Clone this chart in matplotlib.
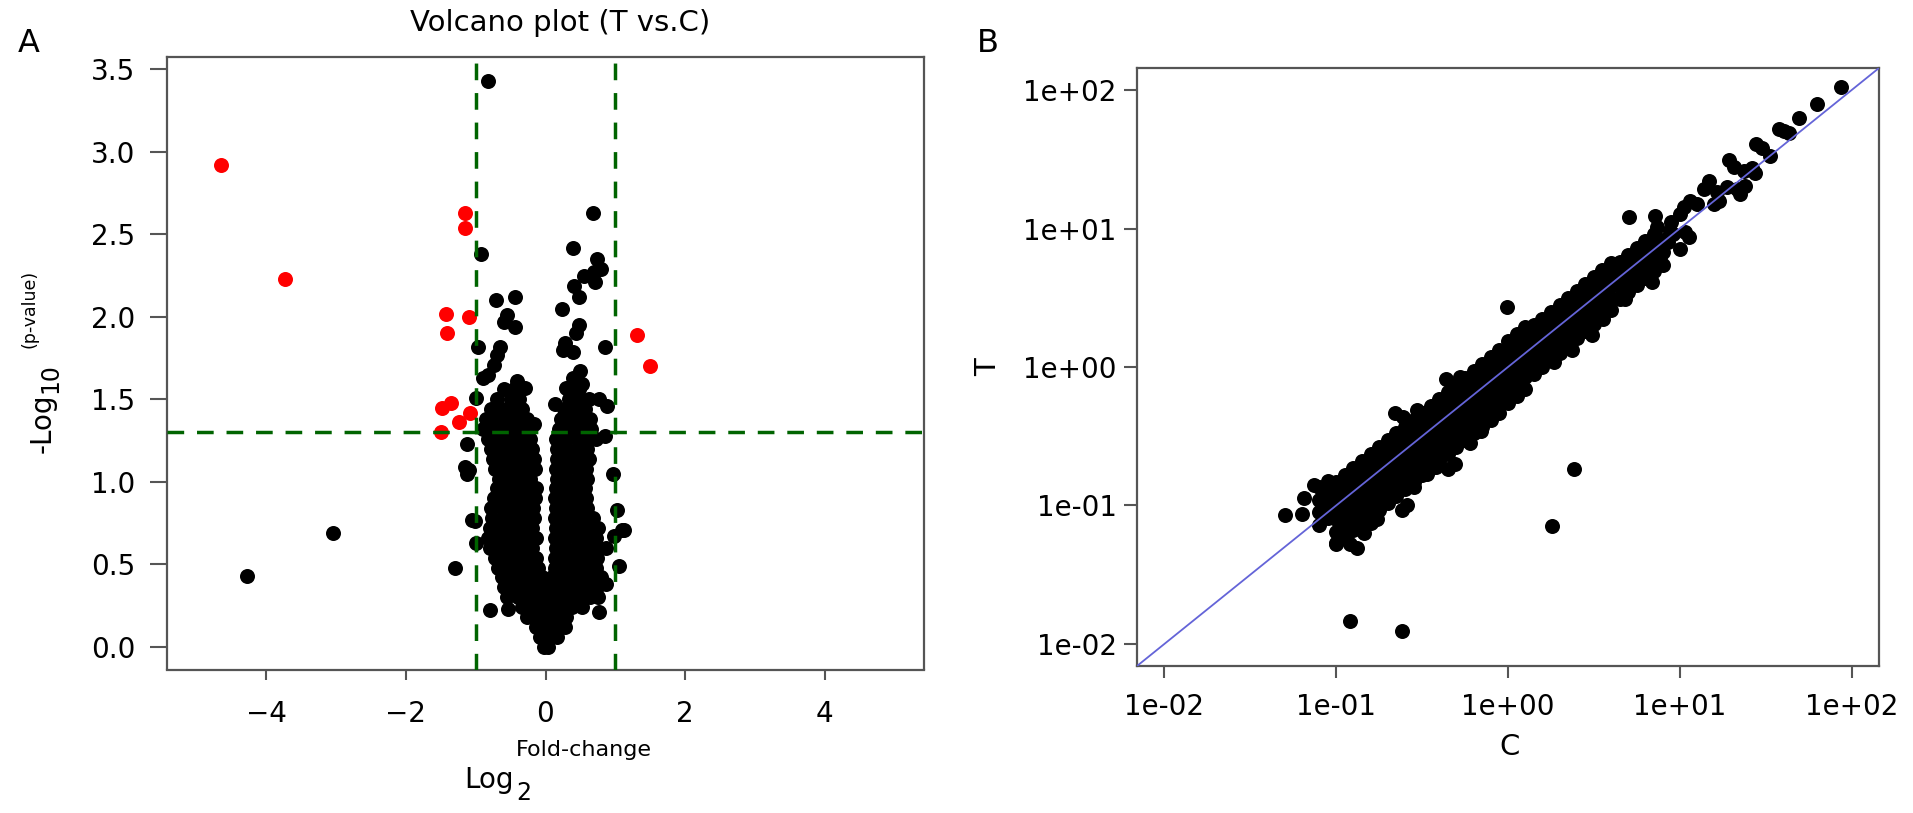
import numpy as np
import matplotlib.pyplot as plt

# ---- panel A: volcano plot, points are (log2 fold change, -log10 p) ----
# dense non-significant core
ns_core = [
    (-0.02, 0.00), (0.04, 0.00),
    (-0.08, 0.06), (0.05, 0.06), (0.16, 0.06),
    (-0.14, 0.12), (0.00, 0.12), (0.15, 0.12), (0.28, 0.12),
    (-0.26, 0.18), (-0.12, 0.18), (0.02, 0.18), (0.16, 0.18), (0.30, 0.18),
    (-0.33, 0.24), (-0.18, 0.24), (-0.04, 0.24), (0.10, 0.24), (0.24, 0.24), (0.38, 0.24), (0.52, 0.24),
    (-0.55, 0.30), (-0.40, 0.30), (-0.25, 0.30), (-0.10, 0.30), (0.05, 0.30), (0.20, 0.30), (0.35, 0.30),
    (0.50, 0.30), (0.64, 0.30), (0.75, 0.30),
    (-0.60, 0.36), (-0.45, 0.36), (-0.30, 0.36), (-0.15, 0.36), (0.00, 0.36), (0.15, 0.36), (0.30, 0.36),
    (0.45, 0.36), (0.60, 0.36), (0.74, 0.36),
    (-0.63, 0.42), (-0.48, 0.42), (-0.33, 0.42), (-0.18, 0.42), (-0.05, 0.42), (0.10, 0.42), (0.25, 0.42),
    (0.40, 0.42), (0.55, 0.42), (0.70, 0.42), (0.80, 0.42),
    (-0.68, 0.48), (-0.53, 0.48), (-0.38, 0.48), (-0.24, 0.48), (-0.11, 0.48), (0.13, 0.48), (0.28, 0.48),
    (0.43, 0.48), (0.58, 0.48), (0.72, 0.48),
    (-0.72, 0.54), (-0.57, 0.54), (-0.42, 0.54), (-0.27, 0.54), (-0.13, 0.54), (0.14, 0.54), (0.29, 0.54),
    (0.44, 0.54), (0.59, 0.54), (0.74, 0.54),
    (-0.80, 0.60), (-0.65, 0.60), (-0.50, 0.60), (-0.35, 0.60), (-0.20, 0.60), (0.15, 0.60), (0.30, 0.60),
    (0.45, 0.60), (0.60, 0.60), (0.75, 0.60), (0.86, 0.60),
    (-0.83, 0.66), (-0.68, 0.66), (-0.53, 0.66), (-0.38, 0.66), (-0.24, 0.66), (-0.13, 0.66), (0.14, 0.66),
    (0.28, 0.66), (0.43, 0.66), (0.58, 0.66), (0.72, 0.66),
    (-0.80, 0.72), (-0.65, 0.72), (-0.50, 0.72), (-0.35, 0.72), (-0.20, 0.72), (0.15, 0.72), (0.30, 0.72),
    (0.45, 0.72), (0.60, 0.72), (0.75, 0.72),
    (-0.76, 0.78), (-0.61, 0.78), (-0.46, 0.78), (-0.31, 0.78), (-0.16, 0.78), (0.14, 0.78), (0.28, 0.78),
    (0.43, 0.78), (0.58, 0.78), (0.68, 0.78),
    (-0.78, 0.84), (-0.63, 0.84), (-0.48, 0.84), (-0.33, 0.84), (-0.18, 0.84), (0.15, 0.84), (0.30, 0.84),
    (0.45, 0.84), (0.60, 0.84),
    (-0.74, 0.90), (-0.59, 0.90), (-0.44, 0.90), (-0.29, 0.90), (-0.15, 0.90), (0.14, 0.90), (0.29, 0.90),
    (0.44, 0.90), (0.58, 0.90),
    (-0.70, 0.96), (-0.55, 0.96), (-0.40, 0.96), (-0.25, 0.96), (-0.14, 0.96), (0.15, 0.96), (0.30, 0.96),
    (0.45, 0.96), (0.56, 0.96),
    (-0.66, 1.02), (-0.51, 1.02), (-0.36, 1.02), (-0.22, 1.02), (0.16, 1.02), (0.31, 1.02), (0.46, 1.02),
    (0.60, 1.02),
    (-0.72, 1.08), (-0.57, 1.08), (-0.42, 1.08), (-0.27, 1.08), (-0.15, 1.08), (0.15, 1.08), (0.30, 1.08),
    (0.45, 1.08), (0.58, 1.08),
    (-0.75, 1.14), (-0.60, 1.14), (-0.45, 1.14), (-0.30, 1.14), (-0.17, 1.14), (0.17, 1.14), (0.32, 1.14),
    (0.47, 1.14), (0.62, 1.14),
    (-0.78, 1.20), (-0.63, 1.20), (-0.48, 1.20), (-0.33, 1.20), (-0.20, 1.20), (0.16, 1.20), (0.31, 1.20),
    (0.46, 1.20), (0.60, 1.20),
    (-0.82, 1.26), (-0.67, 1.26), (-0.52, 1.26), (-0.37, 1.26), (-0.22, 1.26), (0.15, 1.26), (0.30, 1.26),
    (0.45, 1.26), (0.60, 1.26), (0.72, 1.26),
    (-0.90, 1.32), (-0.75, 1.32), (-0.60, 1.32), (-0.45, 1.32), (-0.30, 1.32), (0.20, 1.32), (0.35, 1.32),
    (0.50, 1.32), (0.65, 1.32),
    (-0.85, 1.38), (-0.70, 1.38), (-0.55, 1.38), (-0.40, 1.38), (-0.26, 1.38), (0.22, 1.38), (0.37, 1.38),
    (0.52, 1.38), (0.64, 1.38),
    (-0.78, 1.44), (-0.62, 1.44), (-0.47, 1.44), (-0.33, 1.44), (0.27, 1.44), (0.42, 1.44), (0.57, 1.44),
    (-0.70, 1.50), (-0.50, 1.50), (-0.38, 1.50), (0.33, 1.50), (0.50, 1.50), (0.62, 1.50),
    (-0.60, 1.56), (-0.45, 1.56), (0.35, 1.56), (0.48, 1.56),
]

# scattered non-significant points around the core
ns_outer = [
    (-0.82, 3.43), (0.68, 2.63), (-0.93, 2.38), (0.39, 2.42), (0.74, 2.35), (0.80, 2.29),
    (0.69, 2.27), (0.55, 2.25), (0.41, 2.19), (0.71, 2.21), (0.48, 2.12), (-0.71, 2.10),
    (-0.44, 2.12), (-0.55, 2.01), (-0.60, 1.97), (-0.43, 1.94), (0.24, 2.05), (0.48, 1.95),
    (0.44, 1.90), (0.28, 1.84), (0.39, 1.79), (0.25, 1.80), (-0.97, 1.82), (-0.65, 1.82),
    (-0.70, 1.77), (0.85, 1.82), (-0.74, 1.71), (-0.82, 1.65), (-0.90, 1.63), (0.50, 1.67),
    (0.52, 1.59), (0.39, 1.63), (-0.41, 1.61), (-0.30, 1.57), (0.30, 1.57), (0.36, 1.52),
    (-0.99, 1.51), (0.14, 1.47), (0.77, 1.50), (0.88, 1.46), (-0.16, 1.35), (0.85, 1.28),
    (-1.12, 1.23), (-1.15, 1.09), (-1.12, 1.05), (0.96, 1.05), (1.02, 0.83), (1.13, 0.71),
    (-1.01, 0.76), (1.05, 0.49), (1.10, 0.71), (0.98, 0.67), (-1.05, 0.77), (-1.00, 0.63),
    (-1.10, 1.07), (-0.79, 0.22), (-0.53, 0.23), (0.77, 0.21), (0.86, 0.38), (-1.30, 0.48),
    (-3.04, 0.69), (-4.28, 0.43),
]

# significant points (|log2 FC| > 1 and p < 0.05)
sig_pts = [
    (-4.64, 2.92), (-3.73, 2.23), (-1.15, 2.63), (-1.15, 2.54), (-1.43, 2.02), (-1.41, 1.90),
    (-1.10, 2.00), (1.31, 1.89), (1.50, 1.70), (-1.48, 1.45), (-1.35, 1.48), (-1.24, 1.36),
    (-1.08, 1.42), (-1.50, 1.30),
]

fc_cut = 1.0
p_cut = 0.05

# ---- panel B: expression T vs C, points are (log10 C, log10 T) ----
band_core = [
    (-1.10, -1.14), (-1.10, -1.05), (-1.10, -0.96), (-1.10, -0.87),
    (-1.05, -1.09), (-1.05, -1.00), (-1.05, -0.91), (-1.05, -0.82),
    (-1.00, -1.28), (-1.00, -1.19), (-1.00, -1.10), (-1.00, -1.01), (-1.00, -0.92), (-1.00, -0.83),
    (-0.95, -1.23), (-0.95, -1.14), (-0.95, -1.05), (-0.95, -0.96), (-0.95, -0.87), (-0.95, -0.78),
    (-0.90, -1.18), (-0.90, -1.09), (-0.90, -1.00), (-0.90, -0.91), (-0.90, -0.82), (-0.90, -0.73),
    (-0.85, -1.13), (-0.85, -1.04), (-0.85, -0.95), (-0.85, -0.86), (-0.85, -0.77), (-0.85, -0.68),
    (-0.80, -1.08), (-0.80, -0.99), (-0.80, -0.90), (-0.80, -0.81), (-0.80, -0.72), (-0.80, -0.63),
    (-0.75, -1.03), (-0.75, -0.94), (-0.75, -0.85), (-0.75, -0.76), (-0.75, -0.67), (-0.75, -0.58),
    (-0.70, -0.98), (-0.70, -0.89), (-0.70, -0.80), (-0.70, -0.71), (-0.70, -0.62), (-0.70, -0.53),
    (-0.65, -0.93), (-0.65, -0.84), (-0.65, -0.75), (-0.65, -0.66), (-0.65, -0.57), (-0.65, -0.48),
    (-0.60, -0.88), (-0.60, -0.79), (-0.60, -0.70), (-0.60, -0.61), (-0.60, -0.52), (-0.60, -0.43),
    (-0.55, -0.83), (-0.55, -0.74), (-0.55, -0.65), (-0.55, -0.56), (-0.55, -0.47), (-0.55, -0.38),
    (-0.50, -0.78), (-0.50, -0.69), (-0.50, -0.60), (-0.50, -0.51), (-0.50, -0.42), (-0.50, -0.33),
    (-0.45, -0.73), (-0.45, -0.64), (-0.45, -0.55), (-0.45, -0.46), (-0.45, -0.37), (-0.45, -0.28),
    (-0.40, -0.68), (-0.40, -0.59), (-0.40, -0.50), (-0.40, -0.41), (-0.40, -0.32), (-0.40, -0.23),
    (-0.35, -0.63), (-0.35, -0.54), (-0.35, -0.45), (-0.35, -0.36), (-0.35, -0.27), (-0.35, -0.18),
    (-0.30, -0.58), (-0.30, -0.49), (-0.30, -0.40), (-0.30, -0.31), (-0.30, -0.22), (-0.30, -0.13),
    (-0.25, -0.53), (-0.25, -0.44), (-0.25, -0.35), (-0.25, -0.26), (-0.25, -0.17), (-0.25, -0.08),
    (-0.20, -0.48), (-0.20, -0.39), (-0.20, -0.30), (-0.20, -0.21), (-0.20, -0.12), (-0.20, -0.03),
    (-0.15, -0.43), (-0.15, -0.34), (-0.15, -0.25), (-0.15, -0.16), (-0.15, -0.07), (-0.15, 0.02),
    (-0.10, -0.38), (-0.10, -0.29), (-0.10, -0.20), (-0.10, -0.11), (-0.10, -0.02), (-0.10, 0.07),
    (-0.05, -0.33), (-0.05, -0.24), (-0.05, -0.15), (-0.05, -0.06), (-0.05, 0.03), (-0.05, 0.12),
    (0.00, -0.26), (0.00, -0.17), (0.00, -0.08), (0.00, 0.01), (0.00, 0.10), (0.00, 0.19),
    (0.05, -0.21), (0.05, -0.12), (0.05, -0.03), (0.05, 0.06), (0.05, 0.15), (0.05, 0.24),
    (0.10, -0.16), (0.10, -0.07), (0.10, 0.02), (0.10, 0.11), (0.10, 0.20), (0.10, 0.29),
    (0.15, -0.05), (0.15, 0.04), (0.15, 0.13), (0.15, 0.22), (0.15, 0.30),
    (0.20, 0.00), (0.20, 0.09), (0.20, 0.18), (0.20, 0.27), (0.20, 0.35),
    (0.25, 0.05), (0.25, 0.14), (0.25, 0.23), (0.25, 0.32), (0.25, 0.40),
    (0.30, 0.10), (0.30, 0.19), (0.30, 0.28), (0.30, 0.37), (0.30, 0.45),
    (0.35, 0.16), (0.35, 0.25), (0.35, 0.34), (0.35, 0.43), (0.35, 0.50),
    (0.40, 0.21), (0.40, 0.30), (0.40, 0.39), (0.40, 0.48), (0.40, 0.55),
    (0.45, 0.26), (0.45, 0.35), (0.45, 0.44), (0.45, 0.53), (0.45, 0.60),
    (0.50, 0.31), (0.50, 0.40), (0.50, 0.49), (0.50, 0.58), (0.50, 0.65),
    (0.55, 0.36), (0.55, 0.45), (0.55, 0.54), (0.55, 0.63), (0.55, 0.70),
    (0.60, 0.41), (0.60, 0.50), (0.60, 0.59), (0.60, 0.68), (0.60, 0.75),
    (0.65, 0.49), (0.65, 0.58), (0.65, 0.67), (0.65, 0.76),
    (0.70, 0.54), (0.70, 0.63), (0.70, 0.72), (0.70, 0.81),
    (0.75, 0.59), (0.75, 0.68), (0.75, 0.77), (0.75, 0.86),
    (0.80, 0.64), (0.80, 0.73), (0.80, 0.82), (0.80, 0.91),
    (0.85, 0.69), (0.85, 0.78), (0.85, 0.87), (0.85, 0.96),
    (0.90, 0.74), (0.90, 0.83), (0.90, 0.92),
]

band_edge = [
    (-1.30, -1.07), (-1.20, -1.065), (-1.19, -0.945), (-1.13, -0.85),
    (-0.97, -1.23), (-1.00, -1.27), (-0.92, -1.28), (-0.88, -1.305), (-0.90, -1.17),
    (-0.84, -1.20), (-0.80, -1.13), (-0.76, -1.10),
    (-0.59, -1.00), (-0.62, -1.03), (-0.55, -0.87), (-0.47, -0.77), (-0.42, -0.72),
    (-0.31, -0.70), (-0.35, -0.74), (-0.22, -0.55), (-0.16, -0.46),
    (-0.66, -0.33), (-0.61, -0.36), (-0.36, -0.09), (-0.28, -0.07), (-0.53, -0.31),
    (0.683, 0.494), (0.556, 0.350), (0.488, 0.230), (0.372, 0.122), (0.265, 0.038),
]

band_top = [
    (1.936, 2.022), (1.800, 1.902), (1.693, 1.797), (1.606, 1.706), (1.635, 1.694),
    (1.577, 1.718), (1.446, 1.614), (1.479, 1.580), (1.524, 1.525), (1.285, 1.494),
    (1.314, 1.446), (1.372, 1.417), (1.421, 1.441), (1.440, 1.405), (1.169, 1.346),
    (1.140, 1.286), (1.217, 1.262), (1.276, 1.298), (1.334, 1.286), (1.353, 1.250),
    (1.382, 1.310), (1.061, 1.201), (1.022, 1.153), (1.003, 1.105), (1.100, 1.177),
    (1.197, 1.177), (1.227, 1.201), (0.857, 1.089), (0.867, 1.009), (0.945, 0.985),
    (1.032, 0.973), (1.051, 0.937), (1.003, 0.853), (0.906, 0.901), (0.886, 0.794),
    (0.837, 0.614), (0.93, 0.90), (0.96, 0.96), (0.95, 1.05),
]

band_out = [
    (-0.92, -1.834), (-0.616, -1.906), (0.255, -1.149), (0.385, -0.74),
    (-0.008, 0.434), (0.702, 1.086),
]

exp_ticks = [1e-2, 1e-1, 1e0, 1e1, 1e2]
exp_labels = ["1e-02", "1e-01", "1e+00", "1e+01", "1e+02"]

W, H = 1913, 813
fig = plt.figure(figsize=(W / 100, H / 100), dpi=100)


def px_box(l, t, r, b):
    return [l / W, 1 - b / H, (r - l) / W, (b - t) / H]


def fx(x):
    return x / W


def fy(y):
    return 1 - y / H


frame = "#555555"
dot = 10.8 ** 2

# panel A
ax1 = fig.add_axes(px_box(167, 56.6, 924, 669.5))
ns = np.array(ns_core + ns_outer)
ax1.scatter(ns[:, 0], ns[:, 1], s=dot, c="black", linewidths=0, zorder=2)
sig = np.array(sig_pts)
ax1.scatter(sig[:, 0], sig[:, 1], s=dot, c="red", linewidths=0, zorder=2)
for xv in (-fc_cut, fc_cut):
    ax1.axvline(xv, color="#006400", lw=2.5, dashes=(4.8, 3.7), zorder=3)
ax1.axhline(-np.log10(p_cut), color="#006400", lw=2.5, dashes=(4.8, 3.7), zorder=3)
ax1.set_xlim(-5.42, 5.42)
ax1.set_ylim(-0.138, 3.578)
ax1.set_xticks([-4, -2, 0, 2, 4])
ax1.set_yticks(np.arange(0, 3.6, 0.5))
ax1.set_yticklabels([f"{v:.1f}" for v in np.arange(0, 3.6, 0.5)])
ax1.tick_params(axis="x", length=7, width=1.5, color=frame, labelsize=20, pad=15)
ax1.tick_params(axis="y", length=12, width=1.5, color=frame, labelsize=20, pad=11)

# panel B
ax2 = fig.add_axes(px_box(1137, 68, 1879, 666))
pts = 10 ** np.array(band_core + band_edge + band_top + band_out)
ax2.scatter(pts[:, 0], pts[:, 1], s=dot, c="black", linewidths=0, zorder=2)
ax2.set_xscale("log")
ax2.set_yscale("log")
lim = (10 ** -2.16, 10 ** 2.16)
ax2.set_xlim(lim)
ax2.set_ylim(lim)
ax2.axline((1, 1), (10, 10), color="#6464d8", lw=1.3, zorder=3)
ax2.set_xticks(exp_ticks)
ax2.set_xticklabels(exp_labels)
ax2.set_yticks(exp_ticks)
ax2.set_yticklabels(exp_labels)
ax2.minorticks_off()
ax2.tick_params(axis="x", length=8.5, width=1.5, color=frame, labelsize=20, pad=11)
ax2.tick_params(axis="y", length=9.5, width=1.5, color=frame, labelsize=20, pad=5)

for ax in (ax1, ax2):
    for sp in ax.spines.values():
        sp.set_color(frame)
        sp.set_linewidth(1.6)

# titles, panel letters and axis labels
fig.text(fx(560), fy(23), "Volcano plot (T vs.C)", fontsize=21, ha="center", va="center")
fig.text(fx(29), fy(43), "A", fontsize=23, ha="center", va="center")
fig.text(fx(988), fy(44), "B", fontsize=23, ha="center", va="center")

fig.text(fx(464), fy(788), "Log", fontsize=20, ha="left", va="baseline")
fig.text(fx(516), fy(800), "2", fontsize=17, ha="left", va="baseline")
fig.text(fx(516), fy(756), "Fold-change", fontsize=16, ha="left", va="baseline")

fig.text(fx(51), fy(453), "-Log", fontsize=20, rotation=90,
         rotation_mode="anchor", ha="left", va="baseline")
fig.text(fx(57), fy(393), "10", fontsize=17, rotation=90,
         rotation_mode="anchor", ha="left", va="baseline")
fig.text(fx(35), fy(348), "(p-value)", fontsize=12.5, rotation=90,
         rotation_mode="anchor", ha="left", va="baseline")

fig.text(fx(1510), fy(747), "C", fontsize=21, ha="center", va="center")
fig.text(fx(988), fy(367), "T", fontsize=21, rotation=90, ha="center", va="center")

fig.savefig("out.png", dpi=100)
